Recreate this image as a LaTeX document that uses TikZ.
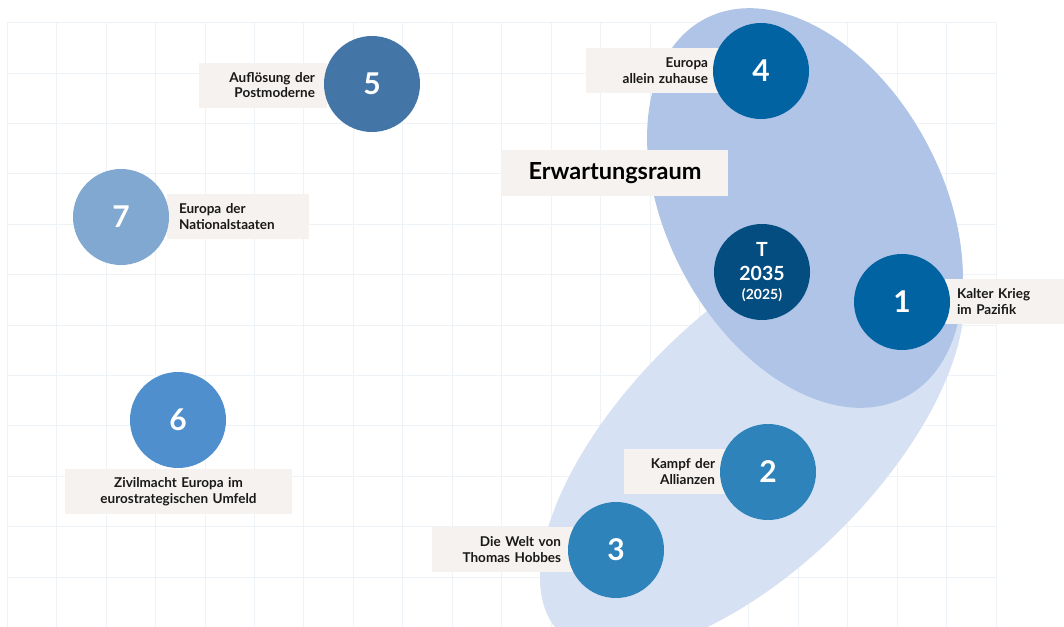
\documentclass[tikz,border=0pt]{standalone}
\usepackage{fontspec}
\setmainfont{Lato}
\definecolor{gridcol}{HTML}{EEF3F7}
\definecolor{zoneouter}{HTML}{D6E1F3}
\definecolor{zoneinner}{HTML}{AFC4E6}
\definecolor{tagcol}{HTML}{F5F2EF}
\definecolor{blueA}{HTML}{0263A3}
\definecolor{blueT}{HTML}{034D80}
\definecolor{blueB}{HTML}{2E83BA}
\definecolor{blueC}{HTML}{4376A6}
\definecolor{blueD}{HTML}{80A8D0}
\definecolor{blueE}{HTML}{4F8FCE}
\begin{document}
\begin{tikzpicture}[x=1pt,y=1pt,yscale=-1,
    szenario/.style={circle,minimum size=96pt,inner sep=0pt,text=white,font=\fontsize{30}{30}\selectfont\bfseries},
    tag/.style={fill=tagcol,minimum height=45pt,inner xsep=12pt,inner ysep=0pt,text=black!90,font=\fontsize{13.5}{15.7}\selectfont\bfseries}]
            \useasboundingbox (0,0) rectangle (1064,626);
            \fill[white] (0,0) rectangle (1064,626);
            \draw[gridcol,line width=1pt,xstep=49.44,ystep=50.4,shift={(7.3,22.7)}] (0,0) grid (989,604);
            % Erwartungsraum
            \fill[zoneouter,rotate around={-45:(752,440)}] (752,440) ellipse [x radius=272,y radius=126];
            \fill[zoneinner,rotate around={62:(805,208)}] (805,208) ellipse [x radius=214,y radius=138];
            \node[fill=tagcol,minimum width=226pt,minimum height=46pt,inner sep=0pt,font=\fontsize{23.5}{23.5}\selectfont\bfseries] (raum) at (615,173) {Erwartungsraum};
            % labels
            \node[tag,text width=110pt,align=right] (t4) at (653,70.5) {Europa\\allein zuhause};
            \node[tag,text width=104pt,align=right] (t5) at (263,85) {Auflösung der\\Postmoderne};
            \node[tag,text width=118pt,align=left] (t7) at (238,216.5) {Europa der\\Nationalstaaten};
            \node[tag,text width=203pt,align=center] (t6) at (178.5,491.5) {Zivilmacht Europa im\\eurostrategischen Umfeld};
            \node[tag,text width=95pt,align=left] (t1) at (1004.5,301.5) {Kalter Krieg\\im Pazifik};
            \node[tag,text width=79pt,align=right] (t2) at (675.5,471.5) {Kampf der\\Allianzen};
            \node[tag,text width=117pt,align=right] (t3) at (502.5,549.5) {Die Welt von\\Thomas Hobbes};
            % scenarios
            \node[szenario,fill=blueA] (s4) at (761,71) {4};
            \node[szenario,fill=blueT,align=center,font=\fontsize{19.5}{24}\selectfont\bfseries] (sT) at (762,272) {T\\2035\\[-4.7pt]{\fontsize{14}{19.3}\selectfont (2025)}};
            \node[szenario,fill=blueA] (s1) at (902,302) {1};
            \node[szenario,fill=blueB] (s2) at (768,472) {2};
            \node[szenario,fill=blueB] (s3) at (616,550) {3};
            \node[szenario,fill=blueC] (s5) at (372,84) {5};
            \node[szenario,fill=blueD] (s7) at (121,217) {7};
            \node[szenario,fill=blueE] (s6) at (178,420) {6};
\end{tikzpicture}
\end{document}
